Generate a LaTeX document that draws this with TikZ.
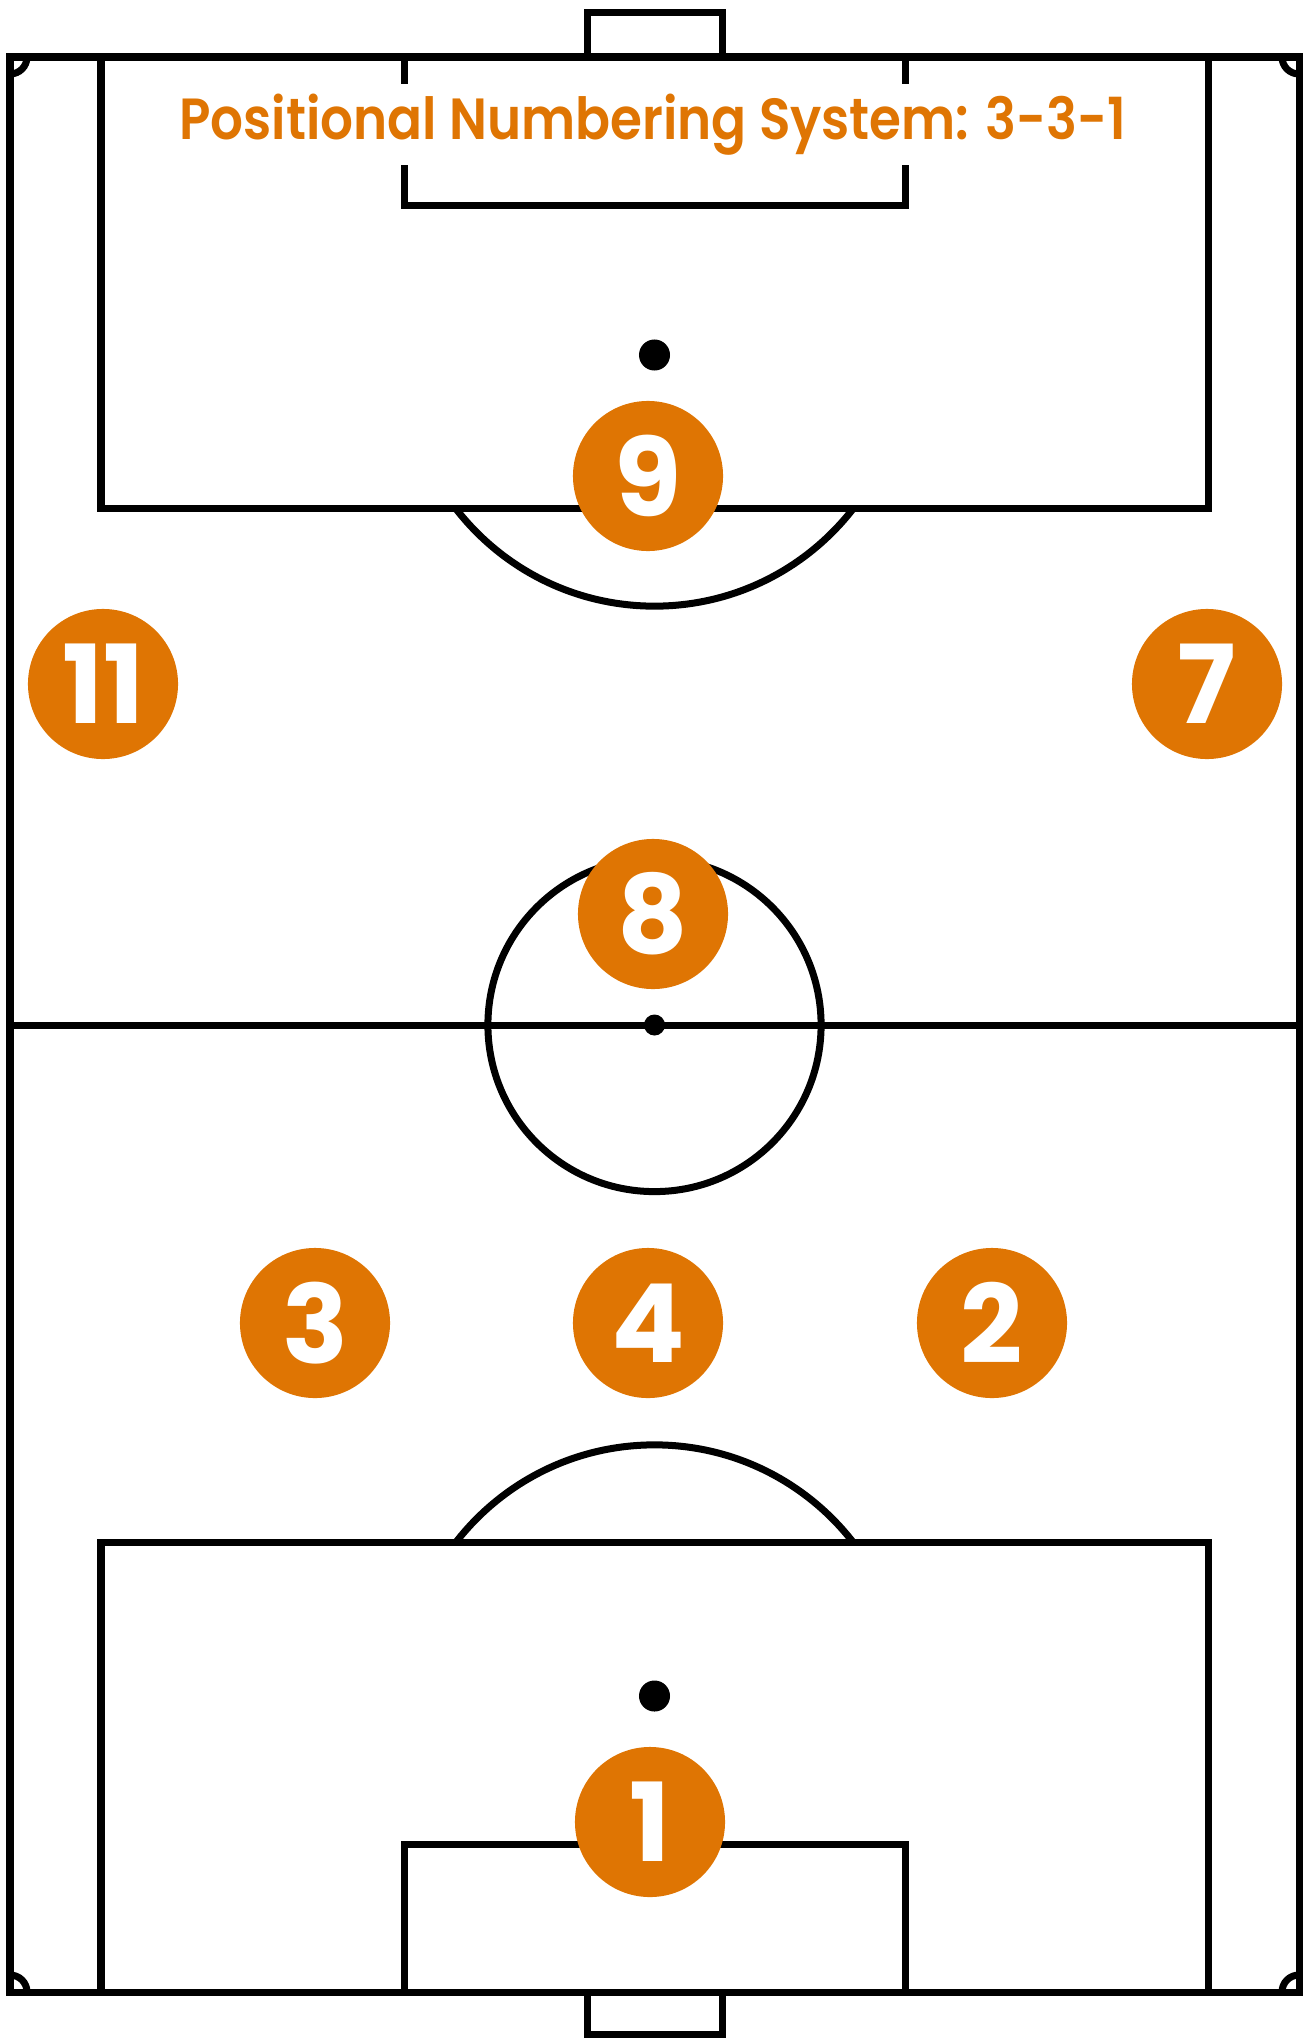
\documentclass[tikz,border=0pt]{standalone}
\usepackage{fontspec}
\newfontfamily\popfont{Poppins}
\newfontfamily\titlefont{Poppins SemiBold}
\definecolor{kitorange}{HTML}{DF7503}

\begin{document}
\begin{tikzpicture}[x=0.01cm, y=-0.01cm,
  pitch/.style={draw=black, line width=0.7mm},
  player/.style={circle, fill=kitorange, minimum size=1.5cm, inner sep=0pt,
    text=white, font=\popfont\bfseries\fontsize{31}{31}\selectfont},
  headline/.style={fill=white, text=kitorange, inner sep=1mm,
    font=\titlefont\fontsize{16.5}{17}\selectfont}]
 \useasboundingbox (0,0) rectangle (1307,2039);

 % Spielfeld
 \draw[pitch] (10,57) rectangle (1299,1992);
 \draw[pitch] (10,1025) -- (1299,1025);
 \draw[pitch] (654.5,1025) circle[radius=1.665cm];
 \fill (654.5,1025) circle[radius=0.105cm];

 % Tore
 \draw[pitch] (587,57) -- (587,12.5) -- (722,12.5) -- (722,57);
 \draw[pitch] (587,1992) -- (587,2034) -- (722,2034) -- (722,1992);

 % Strafraeume und Torraeume
 \draw[pitch] (101,57) rectangle (1208,508);
 \draw[pitch] (404,57) rectangle (905,205);
 \draw[pitch] (101,1992) rectangle (1208,1542);
 \draw[pitch] (404,1992) rectangle (905,1844);

 % Elfmeterpunkte
 \fill (654.5,355) circle[radius=0.155cm];
 \fill (654.5,1696) circle[radius=0.155cm];

 % Teilkreise
 \begin{scope}
  \clip (0,508) rectangle (1307,1542);
  \draw[pitch] (654.5,355) circle[radius=2.51cm];
  \draw[pitch] (654.5,1696) circle[radius=2.51cm];
 \end{scope}

 % Eckbogen
 \begin{scope}
  \clip (10,57) rectangle (1299,1992);
  \draw[pitch] (10,57) circle[radius=0.17cm];
  \draw[pitch] (1299,57) circle[radius=0.17cm];
  \draw[pitch] (10,1992) circle[radius=0.17cm];
  \draw[pitch] (1299,1992) circle[radius=0.17cm];
 \end{scope}

 % Titel
 \node[headline, anchor=base] (titel) at (653,139)
  {\scalebox{0.89}[1]{Positional Numbering System: 3-3-1}};

 % Spieler
 \node[player] (p9) at (648,476) {9};
 \node[player] (p11) at (103,684) {11};
 \node[player] (p7) at (1207,684) {7};
 \node[player] (p8) at (653,914) {8};
 \node[player] (p3) at (315,1323) {3};
 \node[player] (p4) at (648,1323) {4};
 \node[player] (p2) at (992,1323) {2};
 \node[player] (p1) at (650,1822) {1};
\end{tikzpicture}
\end{document}
